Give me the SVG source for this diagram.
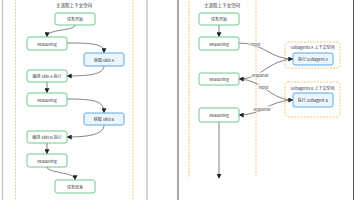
<svg xmlns="http://www.w3.org/2000/svg" width="356" height="200" viewBox="0 0 356 200">
<style>
.g{fill:#fff;stroke:#6cc98a;stroke-width:1}
.b{fill:#eaf5fd;stroke:#5aaae6;stroke-width:1}
.t{font-family:"Noto Sans CJK SC","Noto Sans",sans-serif;font-size:4px;fill:#333;text-anchor:middle;dominant-baseline:central}
.tt{font-family:"Noto Sans CJK SC","Noto Sans",sans-serif;font-size:4.5px;fill:#333;text-anchor:middle;dominant-baseline:central}
.c{fill:none;stroke:#333;stroke-width:0.6;marker-end:url(#a)}
.fr{fill:none;stroke:#f5b760;stroke-width:0.8;stroke-dasharray:2 1.2}
.lb{fill:#fff}
</style>
<defs>
<marker id="a" viewBox="0 0 6 6" refX="5" refY="3" markerWidth="5" markerHeight="5" orient="auto" markerUnits="userSpaceOnUse"><path d="M0,0L6,3L0,6z" fill="#222"/></marker>
</defs>
<rect width="356" height="200" fill="#fff"/>
<g id="panels">
<line x1="2.5" y1="0" x2="2.5" y2="200" stroke="#c8c8c8" stroke-width="1.5"/>
<line x1="147" y1="0" x2="147" y2="200" stroke="#c8c8c8" stroke-width="1.5"/>
<line x1="178" y1="0" x2="178" y2="200" stroke="#555" stroke-width="1"/>
<line x1="353.5" y1="0" x2="353.5" y2="200" stroke="#555" stroke-width="1"/>
<rect class="fr" x="15.5" y="-5" width="117.5" height="215"/>
<path class="fr" d="M189,-5V178M256,-5V178"/>
<text class="tt" x="74" y="5">主流程上下文空间</text>
<text class="tt" x="222" y="5">主流程上下文空间</text>
</g>
<g id="frameA"><rect class="fr" x="285" y="42" width="55" height="26" rx="3"/><text class="t" x="312.5" y="47">Subagents A 上下文空间</text></g>
<g id="frameB"><rect class="fr" x="285" y="82" width="55" height="35" rx="3"/><text class="t" x="312.5" y="88">Subagents B 上下文空间</text></g>
<g id="connectors">
<path class="c" d="M75,25C75,31 47,29 47,36.5"/>
<path class="c" d="M67,43C94,43 104,44 104,52.5"/>
<path class="c" d="M104,66C104,74 90,76 67.5,76"/>
<path class="c" d="M47,82V92.5"/>
<path class="c" d="M67,99C94,99 104,101 104,112.5"/>
<path class="c" d="M104,125C104,134 90,137 67.5,137"/>
<path class="c" d="M47,143V153.5"/>
<path class="c" d="M47,167C47,173 75,172 75,179.5"/>
<path class="c" d="M219,25V36.5"/>
<path class="c" d="M239,43C264,43 270,59 292.5,59"/>
<path class="c" d="M293,59C268,60 262,79 239.5,79"/>
<path class="c" d="M239,79C264,80 270,100 292.5,100"/>
<path class="c" d="M293,100C268,101 262,115 239.5,115"/>
<path class="c" d="M219,122V178"/>
<rect class="lb" x="250" y="41.5" width="11" height="5"/><text class="t" x="255.5" y="44">input</text>
<rect class="lb" x="251" y="72.5" width="18" height="5"/><text class="t" x="260" y="75">response</text>
<rect class="lb" x="258" y="84.5" width="11" height="5"/><text class="t" x="263.5" y="87">input</text>
<rect class="lb" x="253" y="106.5" width="18" height="5"/><text class="t" x="262" y="109">response</text>
</g>
<g id="l_start"><rect class="g" x="55" y="13" width="40" height="12" rx="2"/><text class="t" x="75" y="19">任务开始</text></g>
<g id="l_r1"><rect class="g" x="27" y="37" width="40" height="13" rx="2"/><text class="t" x="47" y="43.5">Reasoning</text></g>
<g id="l_ska"><rect class="b" x="84" y="53" width="40" height="13" rx="2"/><text class="t" x="104" y="59.5">获取 Skill A</text></g>
<g id="l_exa"><rect class="g" x="27" y="70" width="40" height="12" rx="2"/><text class="t" x="47" y="76">编排 Skill A 执行</text></g>
<g id="l_r2"><rect class="g" x="27" y="93" width="40" height="13" rx="2"/><text class="t" x="47" y="99.5">Reasoning</text></g>
<g id="l_skb"><rect class="b" x="84" y="113" width="40" height="12" rx="2"/><text class="t" x="104" y="119">获取 Skill B</text></g>
<g id="l_exb"><rect class="g" x="27" y="131" width="40" height="12" rx="2"/><text class="t" x="47" y="137">编排 Skill B 执行</text></g>
<g id="l_r3"><rect class="g" x="27" y="154" width="40" height="13" rx="2"/><text class="t" x="47" y="160.5">Reasoning</text></g>
<g id="l_end"><rect class="g" x="55" y="180" width="40" height="13" rx="2"/><text class="t" x="75" y="186.5">任务结束</text></g>
<g id="r_start"><rect class="g" x="199" y="13" width="40" height="12" rx="2"/><text class="t" x="219" y="19">任务开始</text></g>
<g id="r_r1"><rect class="g" x="199" y="37" width="40" height="13" rx="2"/><text class="t" x="219" y="43.5">Reasoning</text></g>
<g id="r_r2"><rect class="g" x="199" y="73" width="40" height="12" rx="2"/><text class="t" x="219" y="79">Reasoning</text></g>
<g id="r_r3"><rect class="g" x="199" y="108" width="40" height="14" rx="2"/><text class="t" x="219" y="115">Reasoning</text></g>
<g id="subA"><rect class="b" x="293" y="53" width="40" height="12" rx="2"/><text class="t" x="313" y="59">执行 Subagent A</text></g>
<g id="subB"><rect class="b" x="293" y="93" width="40" height="14" rx="2"/><text class="t" x="313" y="100">执行 Subagent B</text></g>
</svg>
